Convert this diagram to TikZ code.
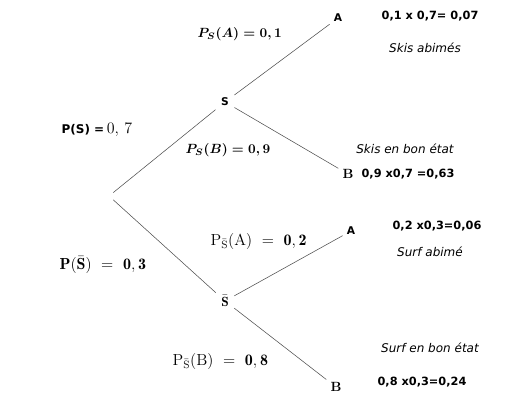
\documentclass[tikz,border=0pt]{standalone}
\usepackage{amsmath,amssymb}
\usepackage{fontspec}
\setsansfont{DejaVu Sans}
\usetikzlibrary{positioning}
\tikzset{
  noeud/.style={font=\sffamily\bfseries\footnotesize, inner sep=4pt},
  feuille/.style={font=\sffamily\bfseries\footnotesize, inner sep=3pt},
  branche/.style={draw=black!70, thin},
  proba/.style={font=\normalsize, inner sep=1pt, anchor=west},
  calcul/.style={font=\sffamily\bfseries\fontsize{8.5}{10}\selectfont, inner sep=1pt},
  issue/.style={font=\sffamily\itshape\small, inner sep=1pt}
}

\begin{document}
\begin{tikzpicture}[x=0.75pt,y=-0.75pt]
\useasboundingbox (0,0) rectangle (511,404);

% arbre
\node[inner sep=3pt] (racine) at (109,196) {};
\node[noeud] (s) at (225,102) {S};
\node[noeud,font=\normalsize] (sb) at (225,301) {$\bar{\mathbf{S}}$};
\node[feuille] (sa1) at (338,18) {A};
\node[feuille,font=\bfseries\normalsize] (sb1) at (348,174) {B};
\node[feuille] (sa2) at (351,231) {A};
\node[feuille,font=\bfseries\normalsize] (sb2) at (336,387) {B};

\draw[branche] (racine) -- (s);
\draw[branche] (racine) -- (sb);
\draw[branche] (s) -- (sa1);
\draw[branche] (s) -- (sb1);
\draw[branche] (sb) -- (sa2);
\draw[branche] (sb) -- (sb2);

% probabilites
\node[proba,font=\large] (ps) at (60,130) {{\sffamily\bfseries\small P(S) =}\,$0,\,7$};
\node[proba,font=\large] (psb) at (58,265) {$\mathbf{P(}\bar{\mathbf{S}}\mathbf{)}\ =\ \mathbf{0,3}$};
\node[proba] (psa) at (196,34) {$\boldsymbol{P_S(A)=0,1}$};
\node[proba] (psbb) at (184,150) {$\boldsymbol{P_S(B)=0,9}$};
\node[proba,font=\large] (psba) at (209,241) {$\mathrm{P}_{\bar{\mathrm{S}}}(\mathrm{A})\ =\ \mathbf{0,2}$};
\node[proba,font=\large] (psbbb) at (171,361) {$\mathrm{P}_{\bar{\mathrm{S}}}(\mathrm{B})\ =\ \mathbf{0,8}$};

% resultats
\node[calcul] (c1) at (430,16) {0,1 x 0,7= 0,07};
\node[issue] (i1) at (425,48) {Skis abimés};
\node[issue] (i2) at (405,149) {Skis en bon état};
\node[calcul,anchor=west] (c2) at (360,174) {0,9 x0,7 =0,63};
\node[calcul] (c3) at (437,226) {0,2 x0,3=0,06};
\node[issue] (i3) at (430,252) {Surf abimé};
\node[issue] (i4) at (430,348) {Surf en bon état};
\node[calcul] (c4) at (422,382) {0,8 x0,3=0,24};
\end{tikzpicture}
\end{document}
